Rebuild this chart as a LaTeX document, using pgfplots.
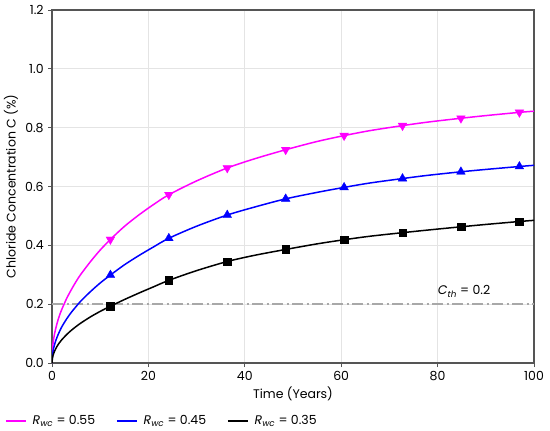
\documentclass[border=0pt]{standalone}
\usepackage{fontspec}
\setmainfont{Poppins}
\usepackage{pgfplots}
\usepackage{pgfplotstable}
\pgfplotsset{compat=1.18}
\definecolor{cmag}{RGB}{255,0,255}
\definecolor{cblue}{RGB}{0,0,255}
\definecolor{caxis}{RGB}{85,85,85}
\definecolor{cgrid}{RGB}{228,228,228}
\definecolor{cth}{RGB}{168,168,168}

\pgfplotstableread{
t C
0 0
0.1 0.047
0.25 0.071
0.5 0.097
1 0.132
1.5 0.159
2 0.181
3 0.218
4 0.249
5 0.277
6 0.302
8 0.345
10 0.384
12.12 0.420
15 0.464
18 0.503
21 0.538
24.24 0.572
30 0.619
36.36 0.663
42 0.694
48.48 0.725
55 0.753
60.6 0.773
66 0.790
72.72 0.807
78 0.819
84.84 0.832
90 0.841
96.97 0.852
100 0.856
}\pink

\pgfplotstableread{
t C
0 0
0.1 0.027
0.25 0.043
0.5 0.061
1 0.086
1.5 0.105
2 0.122
3 0.149
4 0.172
5 0.192
6 0.211
8 0.243
10 0.272
12.12 0.299
15 0.3335
18 0.365
21 0.394
24.24 0.424
30 0.465
36.36 0.503
42 0.530
48.48 0.558
55 0.580
60.6 0.597
66 0.612
72.72 0.627
78 0.638
84.84 0.650
90 0.658
96.97 0.668
100 0.672
}\blue

\pgfplotstableread{
t C
0 0
0.1 0.0175
0.25 0.028
0.5 0.039
1 0.0555
1.5 0.068
2 0.0785
3 0.096
4 0.111
5 0.124
6 0.136
8 0.157
10 0.1755
12.12 0.193
15 0.2155
18 0.2375
21 0.2585
24.24 0.281
30 0.314
36.36 0.345
42 0.366
48.48 0.386
55 0.405
60.6 0.419
66 0.431
72.72 0.443
78 0.452
84.84 0.463
90 0.471
96.97 0.481
100 0.485
}\black

\pgfplotstableread{
t P B K
12.12 0.420 0.299 0.193
24.24 0.572 0.424 0.281
36.36 0.663 0.503 0.345
48.48 0.725 0.558 0.386
60.6 0.773 0.597 0.419
72.72 0.807 0.627 0.443
84.84 0.832 0.650 0.463
96.97 0.852 0.668 0.481
}\marks

\begin{document}
\fontsize{12.5bp}{14.5bp}\selectfont
\begin{tikzpicture}
\path[use as bounding box] (-52bp,-68bp) rectangle (498bp,363bp);
\begin{axis}[
  at={(0,0)}, anchor=south west,
  scale only axis, width=482bp, height=353bp,
  xmin=0, xmax=100, ymin=0, ymax=1.2,
  xtick={0,20,40,60,80,100},
  ytick={0,0.2,0.4,0.6,0.8,1.0,1.2},
  /pgf/number format/assume math mode=true,
  yticklabel style={/pgf/number format/fixed,/pgf/number format/fixed zerofill,/pgf/number format/precision=1},
  xtick pos=bottom, ytick pos=left,
  tick align=outside, major tick length=4bp,
  tick style={color=caxis, line width=0.9bp},
  grid=major, grid style={color=cgrid, line width=0.7bp},
  axis line style={color=caxis, line width=1.2bp},
  xticklabel style={yshift=0bp},
  yticklabel style={xshift=0bp},
  legend columns=3,
  legend cell align=left,
  legend image code/.code={\draw[#1] (0bp,0bp) -- (20bp,0bp);},
  legend style={at={(rel axis cs:0,0)}, anchor=west, xshift=-47bp, yshift=-58bp,
    draw=none, fill=none, inner sep=0pt,
    nodes={inner sep=1bp},
    /tikz/every odd column/.append style={column sep=5bp},
    /tikz/every even column/.append style={column sep=20bp}},
]
\addplot[cth, line width=1.8bp, dash pattern=on 11bp off 3.5bp on 2bp off 3.5bp, forget plot] coordinates {(0,0.2) (100,0.2)};
\addplot[cmag, line width=1.5bp, smooth] table[x=t,y=C] {\pink};
\addlegendentry{\textit{R}\textsubscript{\textit{wc}} = 0.55}
\addplot[cblue, line width=1.5bp, smooth] table[x=t,y=C] {\blue};
\addlegendentry{\textit{R}\textsubscript{\textit{wc}} = 0.45}
\addplot[black, line width=1.5bp, smooth] table[x=t,y=C] {\black};
\addlegendentry{\textit{R}\textsubscript{\textit{wc}} = 0.35}
\addplot[only marks, mark=triangle*, mark size=5bp, mark options={rotate=180, fill=cmag, draw=cmag}, forget plot] table[x=t,y=P] {\marks};
\addplot[only marks, mark=triangle*, mark size=5bp, mark options={fill=cblue, draw=cblue}, forget plot] table[x=t,y=B] {\marks};
\addplot[only marks, mark=square*, mark size=3.8bp, mark options={fill=black, draw=black}, forget plot] table[x=t,y=K] {\marks};
\node at (axis cs:85.5,0.244) {\textit{C}\textsubscript{\textit{th}} = 0.2};
\end{axis}
\node[rotate=90] at (-41bp,176.5bp) {Chloride Concentration C (\%)};
\node at (241bp,-30.5bp) {Time (Years)};
\end{tikzpicture}
\end{document}
